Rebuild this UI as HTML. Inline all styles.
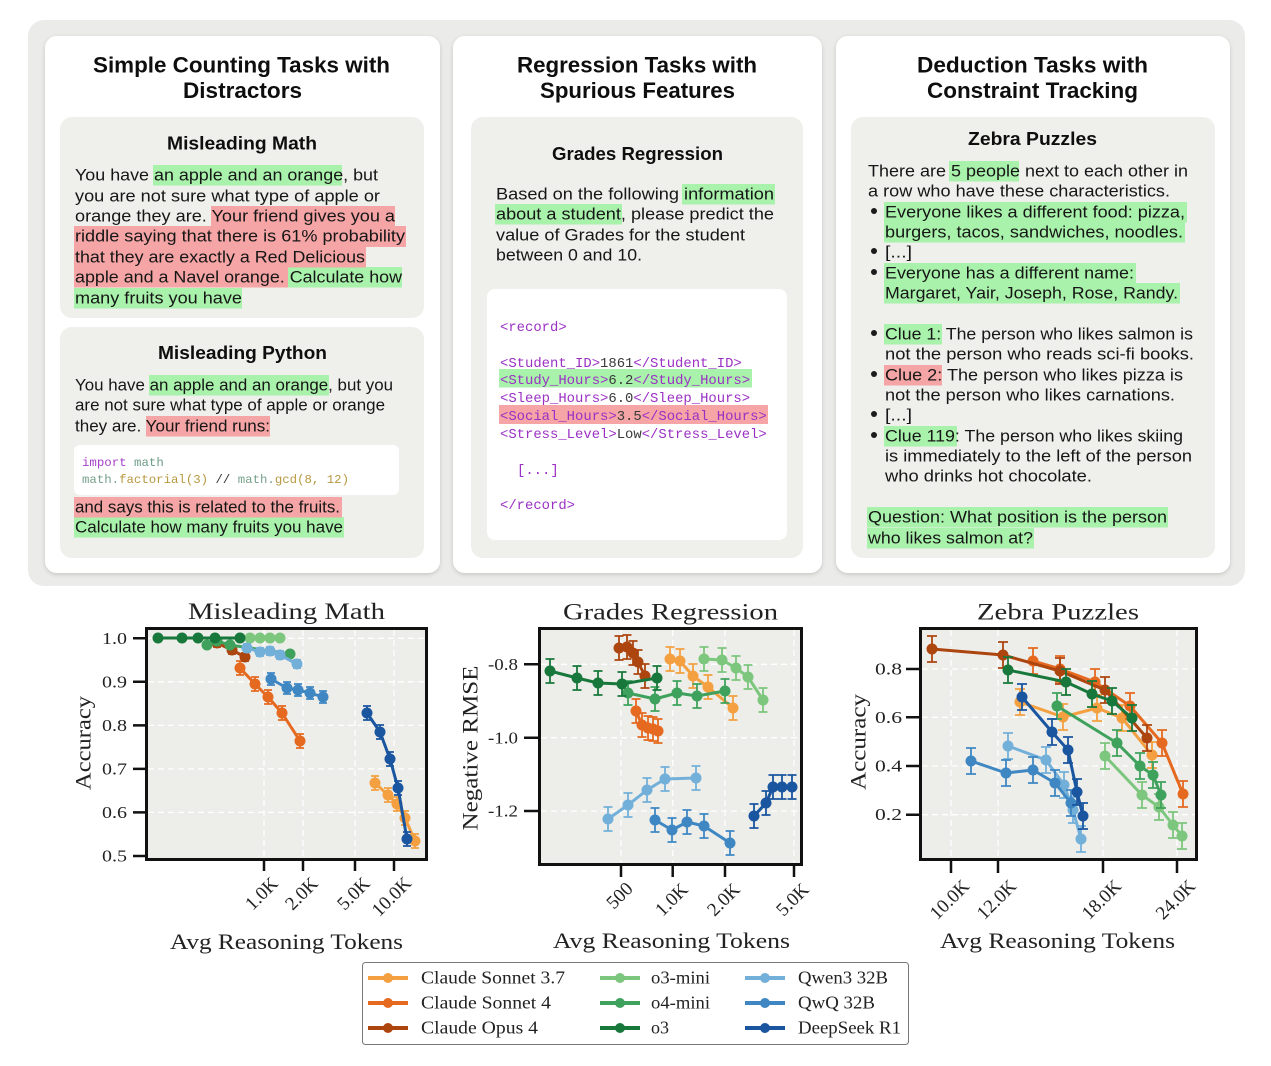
<!DOCTYPE html>
<html><head><meta charset="utf-8">
<style>
html,body{margin:0;padding:0;background:#fff;width:1271px;height:1066px;overflow:hidden}
svg{display:block}
.s{font-family:"Liberation Sans",sans-serif;fill:#161616}
.b{font-family:"Liberation Sans",sans-serif;font-weight:bold;fill:#0e0e0e}
.m{font-family:"Liberation Mono",monospace}
.r{font-family:"Liberation Serif",serif;fill:#222}
</style></head><body>
<svg width="1271" height="1066" viewBox="0 0 1271 1066" xmlns="http://www.w3.org/2000/svg">
<defs>
<filter id="sh" x="-5%" y="-5%" width="110%" height="110%"><feDropShadow dx="0" dy="1.5" stdDeviation="2" flood-color="#000" flood-opacity="0.16"/></filter>
<marker id="m1a" markerUnits="userSpaceOnUse" markerWidth="40" markerHeight="40" refX="20" refY="20" overflow="visible"><path d="M20 13V27M16 13h8M16 27h8" stroke="#f4a040" stroke-width="1.8" fill="none"/><circle cx="20" cy="20" r="5.5" fill="#f4a040"/></marker>
<marker id="m1b" markerUnits="userSpaceOnUse" markerWidth="40" markerHeight="40" refX="20" refY="20" overflow="visible"><path d="M20 13V27M16 13h8M16 27h8" stroke="#e5691f" stroke-width="1.8" fill="none"/><circle cx="20" cy="20" r="5.5" fill="#e5691f"/></marker>
<marker id="m1c" markerUnits="userSpaceOnUse" markerWidth="40" markerHeight="40" refX="20" refY="20" overflow="visible"><path d="M20 16V24M16 16h8M16 24h8" stroke="#ad450f" stroke-width="1.8" fill="none"/><circle cx="20" cy="20" r="5.5" fill="#ad450f"/></marker>
<marker id="m1d" markerUnits="userSpaceOnUse" markerWidth="40" markerHeight="40" refX="20" refY="20" overflow="visible"><circle cx="20" cy="20" r="5.5" fill="#7cc67e"/></marker>
<marker id="m1e" markerUnits="userSpaceOnUse" markerWidth="40" markerHeight="40" refX="20" refY="20" overflow="visible"><path d="M20 17V23M16 17h8M16 23h8" stroke="#3fa25c" stroke-width="1.8" fill="none"/><circle cx="20" cy="20" r="5.5" fill="#3fa25c"/></marker>
<marker id="m1f" markerUnits="userSpaceOnUse" markerWidth="40" markerHeight="40" refX="20" refY="20" overflow="visible"><circle cx="20" cy="20" r="5.5" fill="#18783b"/></marker>
<marker id="m1g" markerUnits="userSpaceOnUse" markerWidth="40" markerHeight="40" refX="20" refY="20" overflow="visible"><path d="M20 16V24M16 16h8M16 24h8" stroke="#72b0da" stroke-width="1.8" fill="none"/><circle cx="20" cy="20" r="5.5" fill="#72b0da"/></marker>
<marker id="m1h" markerUnits="userSpaceOnUse" markerWidth="40" markerHeight="40" refX="20" refY="20" overflow="visible"><path d="M20 14V26M16 14h8M16 26h8" stroke="#3f87c3" stroke-width="1.8" fill="none"/><circle cx="20" cy="20" r="5.5" fill="#3f87c3"/></marker>
<marker id="m1i" markerUnits="userSpaceOnUse" markerWidth="40" markerHeight="40" refX="20" refY="20" overflow="visible"><path d="M20 13V27M16 13h8M16 27h8" stroke="#1a559f" stroke-width="1.8" fill="none"/><circle cx="20" cy="20" r="5.5" fill="#1a559f"/></marker>
<marker id="m2a" markerUnits="userSpaceOnUse" markerWidth="40" markerHeight="40" refX="20" refY="20" overflow="visible"><path d="M20 8V32M15.5 8h9M15.5 32h9" stroke="#f4a040" stroke-width="1.8" fill="none"/><circle cx="20" cy="20" r="5.5" fill="#f4a040"/></marker>
<marker id="m2b" markerUnits="userSpaceOnUse" markerWidth="40" markerHeight="40" refX="20" refY="20" overflow="visible"><path d="M20 8V32M15.5 8h9M15.5 32h9" stroke="#e5691f" stroke-width="1.8" fill="none"/><circle cx="20" cy="20" r="5.5" fill="#e5691f"/></marker>
<marker id="m2c" markerUnits="userSpaceOnUse" markerWidth="40" markerHeight="40" refX="20" refY="20" overflow="visible"><path d="M20 8V32M15.5 8h9M15.5 32h9" stroke="#ad450f" stroke-width="1.8" fill="none"/><circle cx="20" cy="20" r="5.5" fill="#ad450f"/></marker>
<marker id="m2d" markerUnits="userSpaceOnUse" markerWidth="40" markerHeight="40" refX="20" refY="20" overflow="visible"><path d="M20 8V32M15.5 8h9M15.5 32h9" stroke="#7cc67e" stroke-width="1.8" fill="none"/><circle cx="20" cy="20" r="5.5" fill="#7cc67e"/></marker>
<marker id="m2e" markerUnits="userSpaceOnUse" markerWidth="40" markerHeight="40" refX="20" refY="20" overflow="visible"><path d="M20 8V32M15.5 8h9M15.5 32h9" stroke="#3fa25c" stroke-width="1.8" fill="none"/><circle cx="20" cy="20" r="5.5" fill="#3fa25c"/></marker>
<marker id="m2f" markerUnits="userSpaceOnUse" markerWidth="40" markerHeight="40" refX="20" refY="20" overflow="visible"><path d="M20 8V32M15.5 8h9M15.5 32h9" stroke="#18783b" stroke-width="1.8" fill="none"/><circle cx="20" cy="20" r="5.5" fill="#18783b"/></marker>
<marker id="m2g" markerUnits="userSpaceOnUse" markerWidth="40" markerHeight="40" refX="20" refY="20" overflow="visible"><path d="M20 8V32M15.5 8h9M15.5 32h9" stroke="#72b0da" stroke-width="1.8" fill="none"/><circle cx="20" cy="20" r="5.5" fill="#72b0da"/></marker>
<marker id="m2h" markerUnits="userSpaceOnUse" markerWidth="40" markerHeight="40" refX="20" refY="20" overflow="visible"><path d="M20 8V32M15.5 8h9M15.5 32h9" stroke="#3f87c3" stroke-width="1.8" fill="none"/><circle cx="20" cy="20" r="5.5" fill="#3f87c3"/></marker>
<marker id="m2i" markerUnits="userSpaceOnUse" markerWidth="40" markerHeight="40" refX="20" refY="20" overflow="visible"><path d="M20 8V32M15.5 8h9M15.5 32h9" stroke="#1a559f" stroke-width="1.8" fill="none"/><circle cx="20" cy="20" r="5.5" fill="#1a559f"/></marker>
<marker id="m3a" markerUnits="userSpaceOnUse" markerWidth="40" markerHeight="40" refX="20" refY="20" overflow="visible"><path d="M20 7V33M15 7h10M15 33h10" stroke="#f4a040" stroke-width="1.8" fill="none"/><circle cx="20" cy="20" r="5.5" fill="#f4a040"/></marker>
<marker id="m3b" markerUnits="userSpaceOnUse" markerWidth="40" markerHeight="40" refX="20" refY="20" overflow="visible"><path d="M20 7V33M15 7h10M15 33h10" stroke="#e5691f" stroke-width="1.8" fill="none"/><circle cx="20" cy="20" r="5.5" fill="#e5691f"/></marker>
<marker id="m3c" markerUnits="userSpaceOnUse" markerWidth="40" markerHeight="40" refX="20" refY="20" overflow="visible"><path d="M20 7V33M15 7h10M15 33h10" stroke="#ad450f" stroke-width="1.8" fill="none"/><circle cx="20" cy="20" r="5.5" fill="#ad450f"/></marker>
<marker id="m3d" markerUnits="userSpaceOnUse" markerWidth="40" markerHeight="40" refX="20" refY="20" overflow="visible"><path d="M20 7V33M15 7h10M15 33h10" stroke="#7cc67e" stroke-width="1.8" fill="none"/><circle cx="20" cy="20" r="5.5" fill="#7cc67e"/></marker>
<marker id="m3e" markerUnits="userSpaceOnUse" markerWidth="40" markerHeight="40" refX="20" refY="20" overflow="visible"><path d="M20 7V33M15 7h10M15 33h10" stroke="#3fa25c" stroke-width="1.8" fill="none"/><circle cx="20" cy="20" r="5.5" fill="#3fa25c"/></marker>
<marker id="m3f" markerUnits="userSpaceOnUse" markerWidth="40" markerHeight="40" refX="20" refY="20" overflow="visible"><path d="M20 7V33M15 7h10M15 33h10" stroke="#18783b" stroke-width="1.8" fill="none"/><circle cx="20" cy="20" r="5.5" fill="#18783b"/></marker>
<marker id="m3g" markerUnits="userSpaceOnUse" markerWidth="40" markerHeight="40" refX="20" refY="20" overflow="visible"><path d="M20 7V33M15 7h10M15 33h10" stroke="#72b0da" stroke-width="1.8" fill="none"/><circle cx="20" cy="20" r="5.5" fill="#72b0da"/></marker>
<marker id="m3h" markerUnits="userSpaceOnUse" markerWidth="40" markerHeight="40" refX="20" refY="20" overflow="visible"><path d="M20 7V33M15 7h10M15 33h10" stroke="#3f87c3" stroke-width="1.8" fill="none"/><circle cx="20" cy="20" r="5.5" fill="#3f87c3"/></marker>
<marker id="m3i" markerUnits="userSpaceOnUse" markerWidth="40" markerHeight="40" refX="20" refY="20" overflow="visible"><path d="M20 7V33M15 7h10M15 33h10" stroke="#1a559f" stroke-width="1.8" fill="none"/><circle cx="20" cy="20" r="5.5" fill="#1a559f"/></marker>
</defs>

<rect x="28" y="20" width="1217" height="566" rx="16" fill="#ebebe9"/>
<rect x="45" y="36" width="395" height="537" rx="12" fill="#fff" filter="url(#sh)"/>
<rect x="453" y="36" width="369" height="537" rx="12" fill="#fff" filter="url(#sh)"/>
<rect x="836" y="36" width="394" height="537" rx="12" fill="#fff" filter="url(#sh)"/>

<rect x="60" y="117" width="364" height="201" rx="12" fill="#efefeb"/>
<rect x="60" y="327" width="364" height="231" rx="12" fill="#efefeb"/>
<rect x="471" y="117" width="332" height="441" rx="12" fill="#efefeb"/>
<rect x="851" y="117" width="364" height="441" rx="12" fill="#efefeb"/>
<rect x="74" y="445" width="325" height="50" rx="6" fill="#fff"/>
<rect x="487" y="289" width="300" height="251" rx="8" fill="#fff"/>

<g fill="#a9f2ab">
<rect x="153" y="165" width="189" height="20.5"/>
<rect x="288" y="267" width="114" height="20.5"/>
<rect x="74" y="288" width="168" height="20.5"/>
<rect x="149" y="375" width="180" height="20.5"/>
<rect x="74" y="517" width="270" height="20.5"/>
</g>
<g fill="#f5a5a5">
<rect x="211" y="206" width="184" height="20.5"/>
<rect x="74" y="226" width="332" height="21"/>
<rect x="74" y="247" width="292" height="20.5"/>
<rect x="74" y="267" width="214" height="20.5"/>
<rect x="146" y="416" width="124" height="20.5"/>
<rect x="74" y="497" width="268" height="20.5"/>
</g>
<g fill="#a9f2ab">
<rect x="682" y="184" width="93" height="20.5"/>
<rect x="495" y="204" width="127" height="20.5"/>
<rect x="499" y="369" width="253" height="18.5"/>
</g>
<rect x="499" y="405" width="269" height="19" fill="#f5a5a5"/>
<g fill="#a9f2ab">
<rect x="949" y="161" width="70" height="20.5"/>
<rect x="884" y="202" width="303" height="20.5"/>
<rect x="884" y="222" width="301" height="20.5"/>
<rect x="884" y="263" width="252" height="20.5"/>
<rect x="884" y="283" width="296" height="20.5"/>
<rect x="884" y="324" width="58" height="20.5"/>
<rect x="884" y="426" width="73" height="20.5"/>
<rect x="867" y="507" width="301" height="20.5"/>
<rect x="867" y="528" width="167" height="20.5"/>
</g>
<rect x="884" y="365" width="58" height="20.5" fill="#f5a5a5"/>

<g class="b" font-size="22">
<text x="93" y="72.5" textLength="297" lengthAdjust="spacingAndGlyphs">Simple Counting Tasks with</text>
<text x="183" y="98" textLength="119" lengthAdjust="spacingAndGlyphs">Distractors</text>
<text x="517" y="72.5" textLength="240" lengthAdjust="spacingAndGlyphs">Regression Tasks with</text>
<text x="540" y="98" textLength="195" lengthAdjust="spacingAndGlyphs">Spurious Features</text>
<text x="917" y="72.5" textLength="231" lengthAdjust="spacingAndGlyphs">Deduction Tasks with</text>
<text x="927" y="98" textLength="211" lengthAdjust="spacingAndGlyphs">Constraint Tracking</text>
</g>
<g class="b" font-size="18.5">
<text x="167" y="149.5" textLength="150" lengthAdjust="spacingAndGlyphs">Misleading Math</text>
<text x="158" y="359" textLength="169" lengthAdjust="spacingAndGlyphs">Misleading Python</text>
<text x="552" y="160" textLength="171" lengthAdjust="spacingAndGlyphs">Grades Regression</text>
<text x="968" y="145" textLength="129" lengthAdjust="spacingAndGlyphs">Zebra Puzzles</text>
</g>

<g class="s" font-size="16.5">
<text x="75" y="180.5" textLength="303" lengthAdjust="spacingAndGlyphs">You have an apple and an orange, but</text>
<text x="75" y="201.5" textLength="305" lengthAdjust="spacingAndGlyphs">you are not sure what type of apple or</text>
<text x="75" y="221.5" textLength="320" lengthAdjust="spacingAndGlyphs">orange they are. Your friend gives you a</text>
<text x="75" y="241.5" textLength="330" lengthAdjust="spacingAndGlyphs">riddle saying that there is 61% probability</text>
<text x="75" y="262.5" textLength="290" lengthAdjust="spacingAndGlyphs">that they are exactly a Red Delicious</text>
<text x="75" y="282.5" textLength="327" lengthAdjust="spacingAndGlyphs">apple and a Navel orange. Calculate how</text>
<text x="75" y="303.5" textLength="167" lengthAdjust="spacingAndGlyphs">many fruits you have</text>
<text x="75" y="390.5" textLength="318" lengthAdjust="spacingAndGlyphs">You have an apple and an orange, but you</text>
<text x="75" y="410.5" textLength="310" lengthAdjust="spacingAndGlyphs">are not sure what type of apple or orange</text>
<text x="75" y="431.5" textLength="195" lengthAdjust="spacingAndGlyphs">they are. Your friend runs:</text>
<text x="75" y="512.5" textLength="265" lengthAdjust="spacingAndGlyphs">and says this is related to the fruits.</text>
<text x="75" y="532.5" textLength="268" lengthAdjust="spacingAndGlyphs">Calculate how many fruits you have</text>
</g>
<g class="m" font-size="12.4">
<text x="82" y="466"><tspan fill="#a640c8">import</tspan><tspan fill="#6e9c87"> math</tspan></text>
<text x="82" y="483" textLength="267" lengthAdjust="spacingAndGlyphs"><tspan fill="#77a08c">math.</tspan><tspan fill="#b8983f">factorial(3)</tspan><tspan fill="#333"> // </tspan><tspan fill="#77a08c">math.</tspan><tspan fill="#b8983f">gcd(8, 12)</tspan></text>
</g>

<g class="s" font-size="16.5">
<text x="496" y="199.5" textLength="278" lengthAdjust="spacingAndGlyphs">Based on the following information</text>
<text x="496" y="219.5" textLength="278" lengthAdjust="spacingAndGlyphs">about a student, please predict the</text>
<text x="496" y="240.5" textLength="249" lengthAdjust="spacingAndGlyphs">value of Grades for the student</text>
<text x="496" y="260.5" textLength="146" lengthAdjust="spacingAndGlyphs">between 0 and 10.</text>
</g>
<g class="m" font-size="13.9" fill="#9b30c4">
<text x="500" y="331">&lt;record&gt;</text>
<text x="500" y="367">&lt;Student_ID&gt;<tspan fill="#3a3a3a">1861</tspan>&lt;/Student_ID&gt;</text>
<text x="500" y="384">&lt;Study_Hours&gt;<tspan fill="#3a3a3a">6.2</tspan>&lt;/Study_Hours&gt;</text>
<text x="500" y="402">&lt;Sleep_Hours&gt;<tspan fill="#3a3a3a">6.0</tspan>&lt;/Sleep_Hours&gt;</text>
<text x="500" y="420">&lt;Social_Hours&gt;<tspan fill="#3a3a3a">3.5</tspan>&lt;/Social_Hours&gt;</text>
<text x="500" y="438">&lt;Stress_Level&gt;<tspan fill="#3a3a3a">Low</tspan>&lt;/Stress_Level&gt;</text>
<text x="517" y="474">[...]</text>
<text x="500" y="509">&lt;/record&gt;</text>
</g>

<g fill="#1c1c1c">
<circle cx="874" cy="211" r="3"/><circle cx="874" cy="251" r="3"/><circle cx="874" cy="272" r="3"/>
<circle cx="874" cy="333" r="3"/><circle cx="874" cy="374" r="3"/><circle cx="874" cy="414" r="3"/><circle cx="874" cy="435" r="3"/>
</g>
<g class="s" font-size="16.5">
<text x="868" y="176.5" textLength="320" lengthAdjust="spacingAndGlyphs">There are 5 people next to each other in</text>
<text x="868" y="196.5" textLength="302" lengthAdjust="spacingAndGlyphs">a row who have these characteristics.</text>
<text x="885" y="217.5" textLength="300" lengthAdjust="spacingAndGlyphs">Everyone likes a different food: pizza,</text>
<text x="885" y="237.5" textLength="298" lengthAdjust="spacingAndGlyphs">burgers, tacos, sandwiches, noodles.</text>
<text x="885" y="257.5" textLength="27" lengthAdjust="spacingAndGlyphs">[...]</text>
<text x="885" y="278.5" textLength="249" lengthAdjust="spacingAndGlyphs">Everyone has a different name:</text>
<text x="885" y="298.5" textLength="293" lengthAdjust="spacingAndGlyphs">Margaret, Yair, Joseph, Rose, Randy.</text>
<text x="885" y="339.5" textLength="308" lengthAdjust="spacingAndGlyphs">Clue 1: The person who likes salmon is</text>
<text x="885" y="359.5" textLength="309" lengthAdjust="spacingAndGlyphs">not the person who reads sci-fi books.</text>
<text x="885" y="380.5" textLength="298" lengthAdjust="spacingAndGlyphs">Clue 2: The person who likes pizza is</text>
<text x="885" y="400.5" textLength="290" lengthAdjust="spacingAndGlyphs">not the person who likes carnations.</text>
<text x="885" y="420.5" textLength="27" lengthAdjust="spacingAndGlyphs">[...]</text>
<text x="885" y="441.5" textLength="298" lengthAdjust="spacingAndGlyphs">Clue 119: The person who likes skiing</text>
<text x="885" y="461.5" textLength="307" lengthAdjust="spacingAndGlyphs">is immediately to the left of the person</text>
<text x="885" y="481.5" textLength="207" lengthAdjust="spacingAndGlyphs">who drinks hot chocolate.</text>
<text x="868" y="522.5" textLength="299" lengthAdjust="spacingAndGlyphs">Question: What position is the person</text>
<text x="868" y="543.5" textLength="165" lengthAdjust="spacingAndGlyphs">who likes salmon at?</text>
</g>

<!-- CHART 1 -->
<rect x="146.5" y="628.5" width="280" height="231" fill="#ededea"/>
<g stroke="#fff" stroke-width="1.3" stroke-dasharray="6 4" fill="none">
<path d="M264 630V858M303 630V858M355 630V858M394 630V858"/>
<path d="M148 638.3H425M148 681.8H425M148 725.4H425M148 768.9H425M148 812.4H425"/>
</g>
<g fill="none" stroke-width="3" stroke-linejoin="round">
<polyline stroke="#f4a040" marker-start="url(#m1a)" marker-mid="url(#m1a)" marker-end="url(#m1a)" points="375,783 388,795 397,804 405,818 415,841"/>
<polyline stroke="#e5691f" marker-start="url(#m1b)" marker-mid="url(#m1b)" marker-end="url(#m1b)" points="240,668 255,684 268,697 282,713 300,741"/>
<polyline stroke="#ad450f" marker-start="url(#m1c)" marker-mid="url(#m1c)" marker-end="url(#m1c)" points="217,643 232,650 245,657"/>
<polyline stroke="#7cc67e" marker-start="url(#m1d)" marker-mid="url(#m1d)" marker-end="url(#m1d)" points="240,638 250,638 260,638 270,638 280,638"/>
<polyline stroke="#3fa25c" marker-start="url(#m1e)" marker-mid="url(#m1e)" marker-end="url(#m1e)" points="207,645 217,641 230,645 290,654"/>
<polyline stroke="#18783b" marker-start="url(#m1f)" marker-mid="url(#m1f)" marker-end="url(#m1f)" points="158,638 182,638 198,638 215,638 240,638"/>
<polyline stroke="#72b0da" marker-start="url(#m1g)" marker-mid="url(#m1g)" marker-end="url(#m1g)" points="247,648 260,652 270,651 280,655 297,664"/>
<polyline stroke="#3f87c3" marker-start="url(#m1h)" marker-mid="url(#m1h)" marker-end="url(#m1h)" points="271,679 287,688 298,690 310,693 323,697"/>
<polyline stroke="#1a559f" marker-start="url(#m1i)" marker-mid="url(#m1i)" marker-end="url(#m1i)" points="367,713 380,732 390,759 398,788 407,839"/>
</g>
<rect x="146.5" y="628.5" width="280" height="231" fill="none" stroke="#111" stroke-width="3"/>
<path d="M133 638.3H147M133 681.8H147M133 725.4H147M133 768.9H147M133 812.4H147M133 856H147M264 859V871M303 859V871M355 859V871M394 859V871" stroke="#111" stroke-width="2.5"/>
<g class="r" font-size="17" text-anchor="end">
<text x="127" y="644" textLength="25" lengthAdjust="spacingAndGlyphs">1.0</text>
<text x="127" y="687.5" textLength="25" lengthAdjust="spacingAndGlyphs">0.9</text>
<text x="127" y="731" textLength="25" lengthAdjust="spacingAndGlyphs">0.8</text>
<text x="127" y="774.5" textLength="25" lengthAdjust="spacingAndGlyphs">0.7</text>
<text x="127" y="818" textLength="25" lengthAdjust="spacingAndGlyphs">0.6</text>
<text x="127" y="861.5" textLength="25" lengthAdjust="spacingAndGlyphs">0.5</text>
</g>
<g class="r" font-size="19" text-anchor="middle" dominant-baseline="central">
<text transform="translate(262,894) rotate(-45)">1.0K</text>
<text transform="translate(302,894) rotate(-45)">2.0K</text>
<text transform="translate(354,894) rotate(-45)">5.0K</text>
<text transform="translate(392,897) rotate(-45)">10.0K</text>
</g>
<text class="r" font-size="23.5" x="286.5" y="619" text-anchor="middle" textLength="197" lengthAdjust="spacingAndGlyphs">Misleading Math</text>
<text class="r" font-size="22" text-anchor="middle" dominant-baseline="central" transform="translate(83,743) rotate(-90)" textLength="94" lengthAdjust="spacingAndGlyphs">Accuracy</text>
<text class="r" font-size="22" x="286.5" y="949" text-anchor="middle" textLength="233" lengthAdjust="spacingAndGlyphs">Avg Reasoning Tokens</text>

<!-- CHART 2 -->
<rect x="539.5" y="628.5" width="262" height="236" fill="#ededea"/>
<g stroke="#fff" stroke-width="1.3" stroke-dasharray="6 4" fill="none">
<path d="M621 630V863M672.7 630V863M725 630V863M794 630V863"/>
<path d="M541 664.3H800M541 737.7H800M541 811H800"/>
</g>
<g fill="none" stroke-width="3" stroke-linejoin="round">
<polyline stroke="#f4a040" marker-start="url(#m2a)" marker-mid="url(#m2a)" marker-end="url(#m2a)" points="670,659 680,661 693,676 708,687 733,708"/>
<polyline stroke="#e5691f" marker-start="url(#m2b)" marker-mid="url(#m2b)" marker-end="url(#m2b)" points="636,711 642,725 648,728 653,729 658,731"/>
<polyline stroke="#ad450f" marker-start="url(#m2c)" marker-mid="url(#m2c)" marker-end="url(#m2c)" points="619,648 627,647 633,653 638,662 645,676"/>
<polyline stroke="#7cc67e" marker-start="url(#m2d)" marker-mid="url(#m2d)" marker-end="url(#m2d)" points="704,659 722,660 736,668 748,677 763,700"/>
<polyline stroke="#3fa25c" marker-start="url(#m2e)" marker-mid="url(#m2e)" marker-end="url(#m2e)" points="628,693 655,699 677,693 697,696 725,691"/>
<polyline stroke="#18783b" marker-start="url(#m2f)" marker-mid="url(#m2f)" marker-end="url(#m2f)" points="550,671 577,678 598,683 622,684 657,678"/>
<polyline stroke="#72b0da" marker-start="url(#m2g)" marker-mid="url(#m2g)" marker-end="url(#m2g)" points="608,819 628,805 647,790 665,779 696,778"/>
<polyline stroke="#3f87c3" marker-start="url(#m2h)" marker-mid="url(#m2h)" marker-end="url(#m2h)" points="655,820 672,830 687,822 704,826 730,843"/>
<polyline stroke="#1a559f" marker-start="url(#m2i)" marker-mid="url(#m2i)" marker-end="url(#m2i)" points="754,816 766,803 773,787 782,787 792,787"/>
</g>
<rect x="539.5" y="628.5" width="262" height="236" fill="none" stroke="#111" stroke-width="3"/>
<path d="M524 664.3H539M524 737.7H539M524 811H539M621 865V877M672.7 865V877M725 865V877M794 865V877" stroke="#111" stroke-width="2.5"/>
<g class="r" font-size="17" text-anchor="end">
<text x="518" y="670" textLength="30" lengthAdjust="spacingAndGlyphs">-0.8</text>
<text x="518" y="743.5" textLength="30" lengthAdjust="spacingAndGlyphs">-1.0</text>
<text x="518" y="816.5" textLength="30" lengthAdjust="spacingAndGlyphs">-1.2</text>
</g>
<g class="r" font-size="19" text-anchor="middle" dominant-baseline="central">
<text transform="translate(620,896) rotate(-45)">500</text>
<text transform="translate(672,900) rotate(-45)">1.0K</text>
<text transform="translate(724,900) rotate(-45)">2.0K</text>
<text transform="translate(793,900) rotate(-45)">5.0K</text>
</g>
<text class="r" font-size="23.5" x="670.5" y="619.5" text-anchor="middle" textLength="215" lengthAdjust="spacingAndGlyphs">Grades Regression</text>
<text class="r" font-size="22" text-anchor="middle" dominant-baseline="central" transform="translate(470,748) rotate(-90)" textLength="165" lengthAdjust="spacingAndGlyphs">Negative RMSE</text>
<text class="r" font-size="22" x="671.5" y="948" text-anchor="middle" textLength="237" lengthAdjust="spacingAndGlyphs">Avg Reasoning Tokens</text>

<!-- CHART 3 -->
<rect x="920.5" y="628.5" width="276" height="231" fill="#ededea"/>
<g stroke="#fff" stroke-width="1.3" stroke-dasharray="6 4" fill="none">
<path d="M951 630V858M998 630V858M1103 630V858M1177 630V858"/>
<path d="M922 669H1195M922 717.3H1195M922 766H1195M922 814.7H1195"/>
</g>
<g fill="none" stroke-width="3" stroke-linejoin="round">
<polyline stroke="#f4a040" marker-start="url(#m3a)" marker-mid="url(#m3a)" marker-end="url(#m3a)" points="1020,702 1063,717 1097,708 1122,718 1152,755"/>
<polyline stroke="#e5691f" marker-start="url(#m3b)" marker-mid="url(#m3b)" marker-end="url(#m3b)" points="1033,661 1060,669 1095,682 1130,706 1162,743 1183,794"/>
<polyline stroke="#ad450f" marker-start="url(#m3c)" marker-mid="url(#m3c)" marker-end="url(#m3c)" points="932,649 1003,655 1060,671 1105,690 1147,738"/>
<polyline stroke="#7cc67e" marker-start="url(#m3d)" marker-mid="url(#m3d)" marker-end="url(#m3d)" points="1105,756 1142,795 1159,807 1173,825 1182,836"/>
<polyline stroke="#3fa25c" marker-start="url(#m3e)" marker-mid="url(#m3e)" marker-end="url(#m3e)" points="1057,706 1117,743 1140,766 1153,775 1161,795"/>
<polyline stroke="#18783b" marker-start="url(#m3f)" marker-mid="url(#m3f)" marker-end="url(#m3f)" points="1008,670 1066,682 1092,694 1112,701 1132,718"/>
<polyline stroke="#72b0da" marker-start="url(#m3g)" marker-mid="url(#m3g)" marker-end="url(#m3g)" points="1008,746 1046,760 1064,785 1073,810 1081,839"/>
<polyline stroke="#3f87c3" marker-start="url(#m3h)" marker-mid="url(#m3h)" marker-end="url(#m3h)" points="971,761 1006,773 1033,770 1055,783 1071,803"/>
<polyline stroke="#1a559f" marker-start="url(#m3i)" marker-mid="url(#m3i)" marker-end="url(#m3i)" points="1022,697 1052,732 1068,750 1077,792 1083,816"/>
</g>
<rect x="920.5" y="628.5" width="276" height="231" fill="none" stroke="#111" stroke-width="3"/>
<path d="M906 669H920M906 717.3H920M906 766H920M906 814.7H920M951 859V873M998 859V873M1103 859V873M1177 859V873" stroke="#111" stroke-width="2.5"/>
<g class="r" font-size="17" text-anchor="end">
<text x="902" y="674.5" textLength="27" lengthAdjust="spacingAndGlyphs">0.8</text>
<text x="902" y="723" textLength="27" lengthAdjust="spacingAndGlyphs">0.6</text>
<text x="902" y="771.5" textLength="27" lengthAdjust="spacingAndGlyphs">0.4</text>
<text x="902" y="820" textLength="27" lengthAdjust="spacingAndGlyphs">0.2</text>
</g>
<g class="r" font-size="19" text-anchor="middle" dominant-baseline="central">
<text transform="translate(950,900) rotate(-45)">10.0K</text>
<text transform="translate(997,900) rotate(-45)">12.0K</text>
<text transform="translate(1102,900) rotate(-45)">18.0K</text>
<text transform="translate(1176,900) rotate(-45)">24.0K</text>
</g>
<text class="r" font-size="23.5" x="1058" y="619.5" text-anchor="middle" textLength="162" lengthAdjust="spacingAndGlyphs">Zebra Puzzles</text>
<text class="r" font-size="22" text-anchor="middle" dominant-baseline="central" transform="translate(858,742) rotate(-90)" textLength="96" lengthAdjust="spacingAndGlyphs">Accuracy</text>
<text class="r" font-size="22" x="1057.5" y="948" text-anchor="middle" textLength="235" lengthAdjust="spacingAndGlyphs">Avg Reasoning Tokens</text>

<!-- LEGEND -->
<rect x="362.5" y="962.5" width="546" height="82" rx="3" fill="#fff" stroke="#777" stroke-width="1"/>
<g stroke-width="4" stroke-linecap="butt">
<path d="M368 978H408" stroke="#f4a040"/><circle cx="388" cy="978" r="5" fill="#f4a040"/>
<path d="M368 1003H408" stroke="#e5691f"/><circle cx="388" cy="1003" r="5" fill="#e5691f"/>
<path d="M368 1028H408" stroke="#ad450f"/><circle cx="388" cy="1028" r="5" fill="#ad450f"/>
<path d="M600 978H640" stroke="#7cc67e"/><circle cx="620" cy="978" r="5" fill="#7cc67e"/>
<path d="M600 1003H640" stroke="#3fa25c"/><circle cx="620" cy="1003" r="5" fill="#3fa25c"/>
<path d="M600 1028H640" stroke="#18783b"/><circle cx="620" cy="1028" r="5" fill="#18783b"/>
<path d="M745 978H785" stroke="#72b0da"/><circle cx="765" cy="978" r="5" fill="#72b0da"/>
<path d="M745 1003H785" stroke="#3f87c3"/><circle cx="765" cy="1003" r="5" fill="#3f87c3"/>
<path d="M745 1028H785" stroke="#1a559f"/><circle cx="765" cy="1028" r="5" fill="#1a559f"/>
</g>
<g class="r" font-size="17.5">
<text x="421" y="983.5" textLength="144" lengthAdjust="spacingAndGlyphs">Claude Sonnet 3.7</text>
<text x="421" y="1008.5" textLength="130" lengthAdjust="spacingAndGlyphs">Claude Sonnet 4</text>
<text x="421" y="1033.5" textLength="117" lengthAdjust="spacingAndGlyphs">Claude Opus 4</text>
<text x="651" y="983.5" textLength="59" lengthAdjust="spacingAndGlyphs">o3-mini</text>
<text x="651" y="1008.5" textLength="59" lengthAdjust="spacingAndGlyphs">o4-mini</text>
<text x="651" y="1033.5" textLength="18" lengthAdjust="spacingAndGlyphs">o3</text>
<text x="798" y="983.5" textLength="90" lengthAdjust="spacingAndGlyphs">Qwen3 32B</text>
<text x="798" y="1008.5" textLength="77" lengthAdjust="spacingAndGlyphs">QwQ 32B</text>
<text x="798" y="1033.5" textLength="103" lengthAdjust="spacingAndGlyphs">DeepSeek R1</text>
</g>
</svg>
</body></html>
